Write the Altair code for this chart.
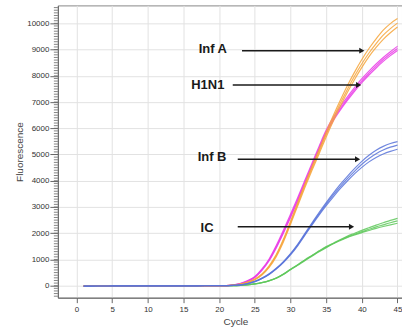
import altair as alt
import pandas as pd

# ---------------- data ----------------
CYCLES = list(range(1, 46))

# shared flat baseline, cycles 1..21
BASE = [-15, -13, -12, -11, -10, -10, -9, -9, -8, -8, -7, -7, -6, -5, -5, -4, -3, -2, 0, 2, 5]

# cycles 22..45
INF_A_1 = [22, 65, 140, 255, 450, 760, 1190, 1770, 2450, 3160, 3870, 4540, 5190, 5860, 6490, 7080, 7640, 8150, 8620, 9040, 9410, 9740, 9990, 10180]
INF_A_2 = [20, 60, 130, 240, 430, 730, 1150, 1720, 2400, 3100, 3800, 4460, 5100, 5760, 6380, 6960, 7500, 8000, 8460, 8870, 9230, 9550, 9800, 10010]
INF_A_3 = [18, 55, 120, 225, 410, 700, 1110, 1670, 2340, 3040, 3730, 4390, 5020, 5670, 6280, 6850, 7380, 7870, 8320, 8730, 9080, 9390, 9640, 9860]

H1N1_1 = [33, 88, 195, 350, 640, 1020, 1530, 2110, 2720, 3350, 4010, 4660, 5310, 5930, 6420, 6840, 7210, 7560, 7890, 8180, 8450, 8700, 8920, 9125]
H1N1_2 = [30, 80, 180, 330, 610, 980, 1480, 2050, 2650, 3280, 3940, 4590, 5240, 5860, 6350, 6760, 7130, 7480, 7810, 8100, 8370, 8620, 8840, 9040]
H1N1_3 = [27, 74, 168, 312, 585, 950, 1440, 2000, 2600, 3230, 3890, 4540, 5190, 5800, 6290, 6700, 7070, 7420, 7740, 8030, 8300, 8550, 8770, 8970]

INF_B_1 = [11, 32, 84, 165, 288, 452, 666, 920, 1225, 1580, 1985, 2390, 2790, 3170, 3530, 3870, 4180, 4470, 4740, 4970, 5160, 5310, 5420, 5490]
INF_B_2 = [10, 30, 80, 160, 280, 440, 650, 900, 1200, 1550, 1950, 2350, 2740, 3110, 3460, 3790, 4090, 4370, 4630, 4850, 5030, 5170, 5280, 5360]
INF_B_3 = [9, 28, 76, 155, 272, 428, 634, 880, 1175, 1520, 1915, 2310, 2690, 3050, 3390, 3710, 4000, 4270, 4510, 4720, 4890, 5020, 5120, 5200]

IC_1 = [6, 16, 37, 72, 123, 194, 296, 448, 630, 802, 984, 1155, 1328, 1490, 1620, 1760, 1890, 2000, 2110, 2210, 2310, 2400, 2490, 2570]
IC_2 = [5, 15, 35, 70, 120, 190, 290, 440, 620, 790, 970, 1140, 1310, 1470, 1610, 1740, 1860, 1960, 2060, 2150, 2240, 2320, 2400, 2470]
IC_3 = [5, 14, 33, 68, 117, 186, 284, 432, 610, 778, 956, 1125, 1292, 1450, 1600, 1725, 1840, 1935, 2025, 2105, 2185, 2255, 2320, 2380]

SERIES = {
    "IC": [IC_1, IC_2, IC_3],
    "H1N1": [H1N1_1, H1N1_2, H1N1_3],
    "Inf A": [INF_A_1, INF_A_2, INF_A_3],
    "Inf B": [INF_B_1, INF_B_2, INF_B_3],
}
COLORS = {"Inf A": "#F6A43A", "H1N1": "#E93AE6", "Inf B": "#5873D9", "IC": "#5EC85A"}

LABELS = ["Inf A", "H1N1", "Inf B", "IC"]
LABEL_X = [19.1, 18.4, 19.0, 18.3]
LABEL_Y = [9020, 7650, 4910, 2200]
ARROW_X0 = [23.2, 21.9, 22.6, 22.6]
ARROW_X1 = [40.45, 40.0, 39.85, 39.0]
ARROW_Y = [8960, 7650, 4820, 2245]

Y_TICKS = list(range(0, 10001, 1000))
X_TICKS = list(range(0, 46, 5))
MINOR_Y = list(range(-400, 10700, 100))

# ---------------- build ----------------
rows = []
for tgt, reps in SERIES.items():
    for i, rep in enumerate(reps):
        vals = BASE + rep
        for c, v in zip(CYCLES, vals):
            rows.append({"cycle": c, "value": v, "target": tgt, "series": f"{tgt}-{i}"})
df = pd.DataFrame(rows)

xscale = alt.Scale(domain=[-2.62, 45.63], nice=False, zero=False)
yscale = alt.Scale(domain=[-456, 10684], nice=False, zero=False)

xaxis = alt.Axis(values=X_TICKS, title="Cycle", grid=True, gridColor="#e2e2e2",
                 tickSize=5, labelFontSize=8, labelPadding=3, labelColor="#333",
                 domainColor="#666", tickColor="#666", titleFontSize=10,
                 titleFontWeight="normal", titleColor="#444", titleX=178, titleY=24,
                 titleBaseline="middle", titleAlign="center", labelFont="Liberation Sans",
                 titleFont="Liberation Sans", format="d")
yaxis = alt.Axis(values=Y_TICKS, title="Fluorescence", grid=True, gridColor="#e2e2e2",
                 tickSize=8, labelFontSize=8, labelPadding=1, labelColor="#333",
                 domainColor="#666", tickColor="#666", titleFontSize=10,
                 titleFontWeight="normal", titleColor="#444", titleX=-38, titleY=146.5,
                 titleAngle=-90, titleBaseline="middle", titleAlign="center",
                 labelFont="Liberation Sans", titleFont="Liberation Sans", format="d")

layers = []
for tgt in ["IC", "H1N1", "Inf A", "Inf B"]:
    sub = df[df.target == tgt]
    ch = alt.Chart(sub).mark_line(strokeWidth=1.2, opacity=0.85, interpolate="monotone",
                                  color=COLORS[tgt]).encode(
        x=alt.X("cycle:Q", scale=xscale, axis=xaxis),
        y=alt.Y("value:Q", scale=yscale, axis=yaxis),
        detail="series:N",
    )
    layers.append(ch)

minor = alt.Chart(pd.DataFrame({"v": MINOR_Y})).mark_rule(color="#666", strokeWidth=0.8).encode(
    y=alt.Y("v:Q", scale=yscale, axis=yaxis), x=alt.value(-4), x2=alt.value(0)
)

ann = pd.DataFrame({"label": LABELS, "lx": LABEL_X, "ly": LABEL_Y,
                    "x0": ARROW_X0, "x1": ARROW_X1, "ay": ARROW_Y})

texts = alt.Chart(ann).mark_text(font="Liberation Sans", fontWeight="bold", fontSize=13,
                                 color="#1a1a1a", align="center", baseline="middle").encode(
    x=alt.X("lx:Q", scale=xscale, axis=xaxis), y=alt.Y("ly:Q", scale=yscale, axis=yaxis),
    text="label:N")

arrows = alt.Chart(ann).transform_calculate(hx="datum.x1 - 0.45").mark_rule(
    color="#1a1a1a", strokeWidth=1.5).encode(
    x=alt.X("x0:Q", scale=xscale, axis=xaxis), x2="hx:Q",
    y=alt.Y("ay:Q", scale=yscale, axis=yaxis))

heads = alt.Chart(ann).transform_calculate(hx="datum.x1 - 0.45").mark_point(
    shape="triangle-right", filled=True, size=36, color="#1a1a1a", opacity=1).encode(
    x=alt.X("hx:Q", scale=xscale, axis=xaxis), y=alt.Y("ay:Q", scale=yscale, axis=yaxis))

chart = alt.layer(*layers, minor, arrows, heads, texts).properties(
    width=345, height=293,
    autosize=alt.AutoSizeParams(type="none"),
    padding={"left": 58, "top": 5, "right": 0, "bottom": 31},
    background="white",
).configure_view(stroke="#888", strokeWidth=1)

chart.save("out.html", embed_options={"renderer": "svg", "actions": False})
